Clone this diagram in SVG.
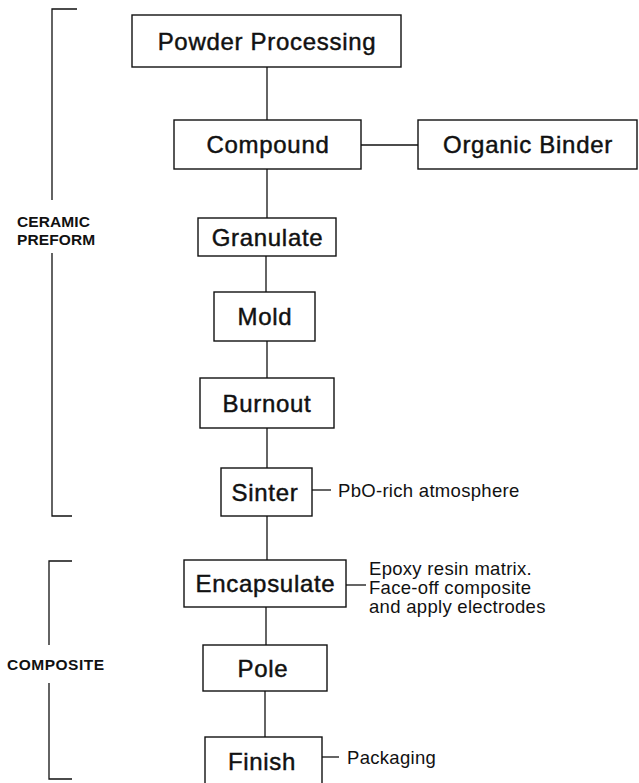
<svg xmlns="http://www.w3.org/2000/svg" width="639" height="783" viewBox="0 0 639 783">
<style>
.box{fill:#fff;stroke:#111;stroke-width:1.4}
.lbl{font-family:"Liberation Sans",Arial,Helvetica,sans-serif;font-size:24px;letter-spacing:0.7px;fill:#111;stroke:#111;stroke-width:0.45;text-anchor:middle}
.note{font-family:"Liberation Sans",Arial,Helvetica,sans-serif;font-size:18.5px;letter-spacing:0.3px;fill:#111}
.grp{font-family:"Liberation Sans",Arial,Helvetica,sans-serif;font-size:15.5px;font-weight:bold;fill:#111;letter-spacing:0.1px}
.ln{fill:none;stroke:#111;stroke-width:1.3}
</style>
<rect width="639" height="783" fill="#fff"/>
<g id="connectors" class="ln">
<line x1="267" y1="67" x2="267" y2="120"/>
<line x1="361" y1="145" x2="418" y2="145"/>
<line x1="267" y1="169" x2="267" y2="218"/>
<line x1="266" y1="256" x2="266" y2="292"/>
<line x1="267" y1="341" x2="267" y2="378"/>
<line x1="267" y1="428" x2="267" y2="468"/>
<line x1="267" y1="516" x2="267" y2="560"/>
<line x1="266" y1="607" x2="266" y2="645"/>
<line x1="265" y1="691" x2="265" y2="737"/>
<line x1="312" y1="490" x2="331" y2="490"/>
<line x1="346" y1="585" x2="366" y2="585"/>
<line x1="322" y1="757" x2="339" y2="757"/>
</g>
<g id="bracket-ceramic">
<path class="ln" d="M77,9 H52 V200 M52,253 V516 H72"/>
<text class="grp" x="17" y="227">CERAMIC</text>
<text class="grp" x="17" y="245">PREFORM</text>
</g>
<g id="bracket-composite">
<path class="ln" d="M72,561 H49 V645 M49,683 V779 H72"/>
<text class="grp" x="7" y="670" style="letter-spacing:0.5px">COMPOSITE</text>
</g>
<g id="powder">
<rect class="box" x="132" y="15" width="269" height="52"/>
<text class="lbl" x="267" y="49.5">Powder Processing</text>
</g>
<g id="compound">
<rect class="box" x="174" y="120" width="187" height="49"/>
<text class="lbl" x="268" y="153">Compound</text>
</g>
<g id="binder">
<rect class="box" x="418" y="120" width="219" height="49"/>
<text class="lbl" x="528" y="153">Organic Binder</text>
</g>
<g id="granulate">
<rect class="box" x="198" y="218" width="138" height="38"/>
<text class="lbl" x="267.5" y="245.5">Granulate</text>
</g>
<g id="mold">
<rect class="box" x="214" y="292" width="101" height="49"/>
<text class="lbl" x="265" y="325">Mold</text>
</g>
<g id="burnout">
<rect class="box" x="200" y="378" width="134" height="50"/>
<text class="lbl" x="267" y="411.5">Burnout</text>
</g>
<g id="sinter">
<rect class="box" x="221" y="468" width="91" height="48"/>
<text class="lbl" x="265" y="500.5">Sinter</text>
<text class="note" x="338" y="497">PbO-rich atmosphere</text>
</g>
<g id="encapsulate">
<rect class="box" x="184" y="560" width="162" height="47"/>
<text class="lbl" x="265.5" y="592">Encapsulate</text>
<text class="note" x="369" y="575">Epoxy resin matrix.</text>
<text class="note" x="369" y="594">Face-off composite</text>
<text class="note" x="369" y="613">and apply electrodes</text>
</g>
<g id="pole">
<rect class="box" x="203" y="645" width="124" height="46"/>
<text class="lbl" x="263" y="676.5">Pole</text>
</g>
<g id="finish">
<rect class="box" x="205" y="737" width="117" height="50"/>
<text class="lbl" x="262" y="770">Finish</text>
<text class="note" x="347" y="764">Packaging</text>
</g>
</svg>
